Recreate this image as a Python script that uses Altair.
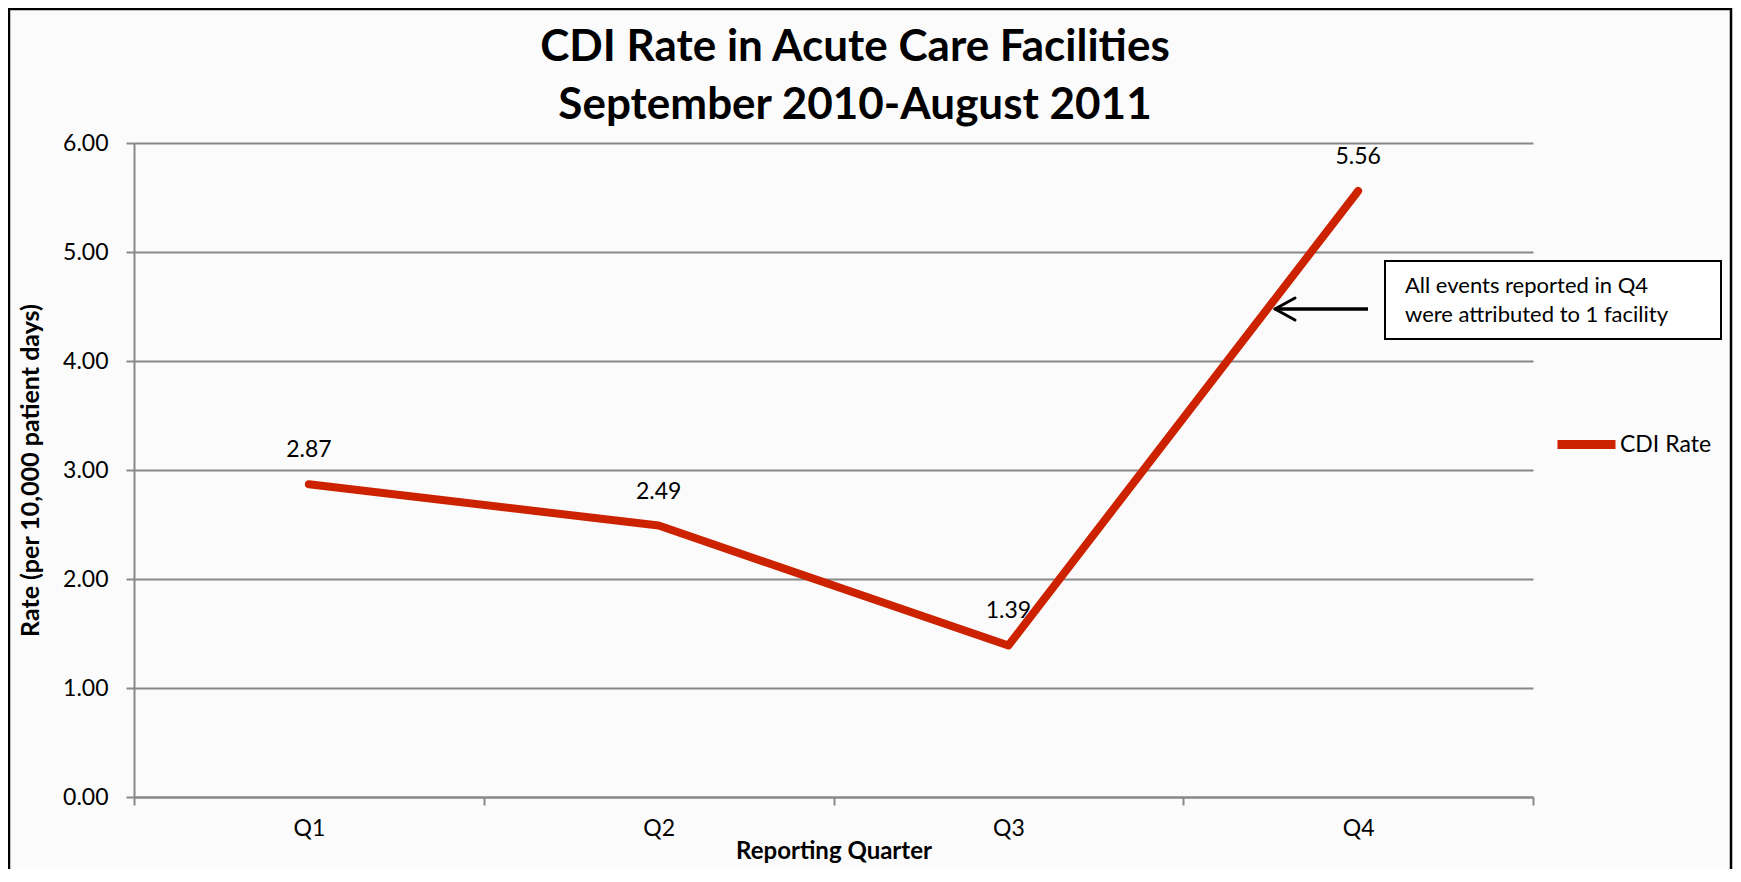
import altair as alt
import pandas as pd

# ---- data ----
quarters = ["Q1", "Q2", "Q3", "Q4"]
rates = [2.87, 2.49, 1.39, 5.56]
series_names = ["CDI Rate", "CDI Rate", "CDI Rate", "CDI Rate"]
y_ticks = [0, 1, 2, 3, 4, 5, 6]
title_lines = ["CDI Rate in Acute Care Facilities", "September 2010-August 2011"]
note_lines = ["All events reported in Q4", "were attributed to 1 facility"]

df = pd.DataFrame({"quarter": quarters, "rate": rates, "series": series_names})
one = alt.Data(values=[{"k": 1}])

FONT = "Lato"
RED = "#CC2200"
GRID = "#888888"
W, H = 1399, 654

x_enc = alt.X(
    "quarter:N",
    sort=quarters,
    bandPosition=0.5,
    scale=alt.Scale(type="band", paddingInner=0, paddingOuter=0),
    axis=alt.Axis(
        title="Reporting Quarter",
        tickBand="extent",
        labelAngle=0,
        labelFont=FONT, labelFontSize=23, labelColor="black",
        labelBaseline="middle", labelPadding=23,
        ticks=True, tickSize=8, tickColor=GRID, tickWidth=2,
        domainColor=GRID, domainWidth=2,
        grid=False,
        titleFont=FONT, titleFontSize=24, titleFontWeight="bold", titleColor="black",
        titleX=W / 2, titleY=54, titleAlign="center", titleBaseline="middle",
    ),
)
y_enc = alt.Y(
    "rate:Q",
    scale=alt.Scale(domain=[0, 6], nice=False, zero=True),
    axis=alt.Axis(
        values=y_ticks, format=".2f",
        title="Rate (per 10,000 patient days)",
        labelFont=FONT, labelFontSize=23, labelColor="black", labelPadding=18,
        tickSize=8, tickColor=GRID, tickWidth=2,
        domainColor=GRID, domainWidth=2,
        grid=True, gridColor=GRID, gridWidth=2,
        titleFont=FONT, titleFontSize=25, titleFontWeight="bold", titleColor="black",
        titleAngle=270, titleX=-104, titleY=H / 2, titleAlign="center", titleBaseline="middle",
    ),
)

base = alt.Chart(df)

border = alt.Chart(one).mark_rect(
    fill="transparent", stroke="black", strokeWidth=2.5
).encode(x=alt.value(-125), x2=alt.value(1597), y=alt.value(-134), y2=alt.value(H + 90))

title = alt.Chart(one).mark_text(
    text=title_lines, align="center", baseline="alphabetic", font=FONT, fontSize=44,
    fontWeight="bold", lineHeight=58, color="black"
).encode(x=alt.value(721), y=alt.value(-82))

line = base.mark_line(strokeWidth=8, strokeCap="round", strokeJoin="round").encode(
    x=x_enc, y=y_enc,
    color=alt.Color(
        "series:N",
        scale=alt.Scale(domain=[series_names[0]], range=[RED]),
        legend=alt.Legend(
            title=None, orient="none", legendX=1419, legendY=268,
            symbolType="stroke", symbolSize=3364, symbolStrokeWidth=9,
            labelFont=FONT, labelFontSize=23, labelColor="black", labelOffset=0,
            padding=0,
        ),
    ),
)

labels = base.mark_text(dy=-34, fontSize=23, font=FONT, color="black", baseline="middle").encode(
    x=x_enc, y=y_enc, text=alt.Text("rate:Q", format=".2f")
)

note_box = alt.Chart(one).mark_rect(fill="white", stroke="black", strokeWidth=2).encode(
    x=alt.value(1251), x2=alt.value(1587), y=alt.value(118), y2=alt.value(196)
)
note_text = alt.Chart(one).mark_text(
    text=note_lines, align="left", baseline="alphabetic", font=FONT, fontSize=22,
    lineHeight=29, color="black"
).encode(x=alt.value(1271), y=alt.value(150))

arrow_shaft = alt.Chart(one).mark_rule(stroke="black", strokeWidth=3.5).encode(
    x=alt.value(1141), x2=alt.value(1234), y=alt.value(166), y2=alt.value(166)
)
arrow_top = alt.Chart(one).mark_rule(stroke="black", strokeWidth=3, strokeCap="round").encode(
    x=alt.value(1141), x2=alt.value(1161), y=alt.value(166), y2=alt.value(155)
)
arrow_bot = alt.Chart(one).mark_rule(stroke="black", strokeWidth=3, strokeCap="round").encode(
    x=alt.value(1141), x2=alt.value(1161), y=alt.value(166), y2=alt.value(177)
)

chart = alt.layer(
    border, title, line, labels, note_box, note_text, arrow_shaft, arrow_top, arrow_bot
).properties(
    width=W, height=H,
    autosize=alt.AutoSizeParams(type="none"),
    padding={"left": 126, "top": 135, "right": 200, "bottom": 72},
    background="#fbfbfb",
).configure_view(stroke="transparent")

chart.save("out.html", embed_options={"renderer": "svg", "actions": False})
